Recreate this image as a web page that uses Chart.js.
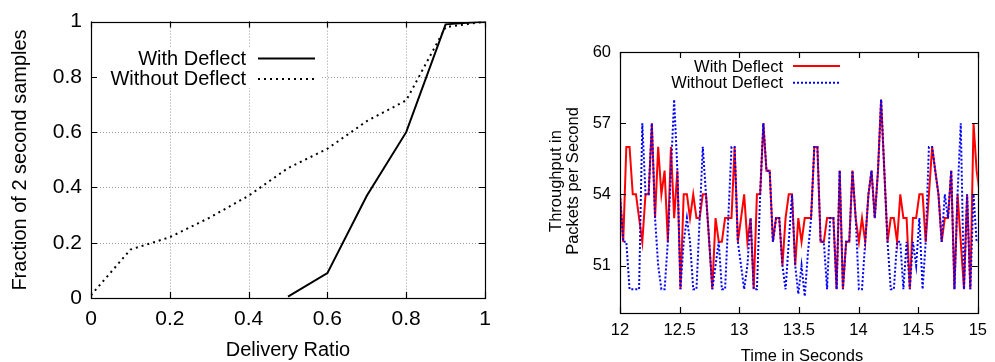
<!DOCTYPE html>
<html><head><meta charset="utf-8">
<script src="https://cdn.jsdelivr.net/npm/chart.js@4.4.1/dist/chart.umd.min.js"></script>
<style>
html,body{margin:0;padding:0;background:#fff;width:995px;height:362px;overflow:hidden}
#c1{position:absolute;left:0;top:0}
#c2{position:absolute;left:500px;top:0}
</style></head><body>
<canvas id="c1" width="500" height="362"></canvas>
<canvas id="c2" width="495" height="362"></canvas>
<script>
// ---------- Left chart: CDF of delivery ratio ----------
const cdfTicks = [0, 0.2, 0.4, 0.6, 0.8, 1];
const cdfWithX = [0.5, 0.6, 0.7, 0.8, 0.9, 1.0];
const cdfWithY = [0.005, 0.09, 0.37, 0.6, 0.99, 1.0];
const cdfWithoutX = [0, 0.1, 0.2, 0.3, 0.4, 0.5, 0.6, 0.7, 0.8, 0.9, 1.0];
const cdfWithoutY = [0.01, 0.175, 0.22, 0.29, 0.37, 0.47, 0.54, 0.64, 0.715, 0.98, 1.0];

// ---------- Right chart: throughput over time ----------
const thrXTicks = [12, 12.5, 13, 13.5, 14, 14.5, 15];
const thrYTicks = [51, 54, 57, 60];
const times = [12.000,12.027,12.053,12.080,12.107,12.134,12.160,12.187,12.214,12.240,
12.267,12.294,12.320,12.347,12.374,12.401,12.427,12.454,12.481,12.507,
12.534,12.561,12.587,12.614,12.641,12.668,12.694,12.721,12.748,12.774,
12.801,12.828,12.854,12.881,12.908,12.935,12.961,12.988,13.015,13.041,
13.068,13.095,13.121,13.148,13.175,13.202,13.228,13.255,13.282,13.308,
13.335,13.362,13.388,13.415,13.442,13.469,13.495,13.522,13.549,13.575,
13.602,13.629,13.655,13.682,13.709,13.736,13.762,13.789,13.816,13.842,
13.869,13.896,13.922,13.949,13.976,14.003,14.029,14.056,14.083,14.109,
14.136,14.163,14.189,14.216,14.243,14.270,14.296,14.323,14.350,14.376,
14.403,14.430,14.456,14.483,14.510,14.537,14.563,14.590,14.617,14.643,
14.670,14.697,14.723,14.750,14.777,14.804,14.830,14.857,14.884,14.910,
14.937,14.964,14.990,15.017];
const thrWith = [54,52,56,56,54,54,53,52,54,54,
57,53,56,54,55,52,56,53,55,50,
54,54,53,54,53,53,54,54,52,50,
53,52,52,53,53,53,56,52,53,54,
52,53,50,54,54,57,55,55,52,53,
53,51,53,54,54,51,53,52,53,53,
53,56,56,52,52,53,53,53,50,55,
50,52,52,55,53,52,53,52,54,55,
53,55,58,55,52,53,53,52,54,53,
53,50,53,53,54,54,52,54,56,55,
54,52,53,53,55,50,54,52,50,54,
50,57,55,54];
const thrWithout = [54,52,52,50,50,50,50,57,54,54,
57,53,51,50,50,52,55,58,55,50,
52,53,52,50,50,53,56,54,52,50,
51,52,50,50,53,56,56,52,51,50,
51,53,50,50,54,57,55,55,52,53,
53,51,50,52,54,51,49.8,51,49.7,51.5,
53,56,56,52,52,50,53,53,50,55,
50,52,52,55,53,50,50,52,54,55,
53,55,58,55,52,50,50,52,52,50,
52,50,52,51,53,50,52,56,56,55,
54,52,54,53,55,50,54,57,50,54,
50,54,52,52];

const FONT = "'Liberation Sans', Arial, Helvetica, sans-serif";

function decor(cfg) {
  return {
    id: 'decor',
    beforeDatasetsDraw(chart) {
      if (!cfg.grid) return;
      const {ctx, chartArea: a, scales: {x, y}} = chart;
      ctx.save();
      ctx.strokeStyle = cfg.gridColor; ctx.lineWidth = 1; ctx.setLineDash(cfg.gridDash);
      x.ticks.forEach(t => {
        const px = Math.round(x.getPixelForValue(t.value)) + 0.5;
        ctx.beginPath(); ctx.moveTo(px, a.top); ctx.lineTo(px, a.bottom); ctx.stroke();
      });
      y.ticks.forEach(t => {
        const py = Math.round(y.getPixelForValue(t.value)) + 0.5;
        ctx.beginPath(); ctx.moveTo(a.left, py); ctx.lineTo(a.right, py); ctx.stroke();
      });
      ctx.restore();
    },
    afterDatasetsDraw(chart) {
      const {ctx, chartArea: a, scales: {x, y}} = chart;
      ctx.save();
      // opaque legend box (covers grid lines, as in the original)
      if (cfg.legendBox) {
        const b = cfg.legendBox;
        ctx.fillStyle = '#fff';
        ctx.fillRect(b.x0, b.y0, b.x1 - b.x0, b.y1 - b.y0);
      }
      ctx.strokeStyle = '#000'; ctx.lineWidth = 1.2; ctx.setLineDash([]);
      const L = cfg.tickLen;
      x.ticks.forEach(t => {
        const px = Math.round(x.getPixelForValue(t.value)) + 0.5;
        ctx.beginPath(); ctx.moveTo(px, a.bottom); ctx.lineTo(px, a.bottom - L);
        ctx.moveTo(px, a.top); ctx.lineTo(px, a.top + L); ctx.stroke();
      });
      y.ticks.forEach(t => {
        const py = Math.round(y.getPixelForValue(t.value)) + 0.5;
        ctx.beginPath(); ctx.moveTo(a.left, py); ctx.lineTo(a.left + L, py);
        ctx.moveTo(a.right, py); ctx.lineTo(a.right - L, py); ctx.stroke();
      });
      ctx.strokeRect(Math.round(a.left) + 0.5, Math.round(a.top) + 0.5,
                     Math.round(a.right - a.left), Math.round(a.bottom - a.top));
      // legend (gnuplot style: text right-aligned, sample to the right)
      ctx.font = cfg.legendFont + 'px ' + FONT;
      ctx.textAlign = 'right'; ctx.textBaseline = 'alphabetic';
      cfg.legend.forEach(it => {
        ctx.fillStyle = '#000';
        ctx.fillText(it.text, cfg.legendTextRight, it.base);
        ctx.strokeStyle = it.color; ctx.lineWidth = it.width; ctx.setLineDash(it.dash);
        ctx.beginPath(); ctx.moveTo(cfg.sampleX0, it.lineY); ctx.lineTo(cfg.sampleX1, it.lineY); ctx.stroke();
      });
      ctx.setLineDash([]);
      // axis titles
      ctx.fillStyle = '#000';
      ctx.font = cfg.titleFont + 'px ' + FONT;
      ctx.textAlign = 'center'; ctx.textBaseline = 'alphabetic';
      ctx.fillText(cfg.xTitle.text, cfg.xTitle.x, cfg.xTitle.y);
      cfg.yTitle.forEach(t => {
        ctx.save(); ctx.translate(t.x, t.y); ctx.rotate(-Math.PI / 2);
        ctx.fillText(t.text, 0, 0); ctx.restore();
      });
      ctx.restore();
    }
  };
}

function axisOpts(min, max, tickList, size, fitProp, fitVal, pad) {
  return {
    type: 'linear', min, max,
    afterBuildTicks: s => { s.ticks = tickList.map(v => ({value: v})); },
    afterFit: s => { s[fitProp] = fitVal; },
    grid: {display: false, drawTicks: false},
    border: {display: false},
    ticks: {padding: pad, color: '#000', font: {family: FONT, size}, autoSkip: false, maxRotation: 0,
            callback: v => String(v)}
  };
}

// Left chart
new Chart(document.getElementById('c1'), {
  type: 'line',
  data: {datasets: [
    {label: 'With Deflect', data: cdfWithX.map((v, i) => ({x: v, y: cdfWithY[i]})),
     borderColor: '#000', borderWidth: 2, pointRadius: 0, tension: 0, fill: false},
    {label: 'Without Deflect', data: cdfWithoutX.map((v, i) => ({x: v, y: cdfWithoutY[i]})),
     borderColor: '#000', borderWidth: 2, borderDash: [2, 4], pointRadius: 0, tension: 0, fill: false}
  ]},
  options: {
    responsive: false, animation: false, devicePixelRatio: 1,
    layout: {padding: {left: 0, right: 15, top: 20, bottom: 0}},
    plugins: {legend: {display: false}, tooltip: {enabled: false}},
    scales: {
      x: axisOpts(0, 1, cdfTicks, 21, 'height', 64, 9),
      y: axisOpts(0, 1, cdfTicks, 21, 'width', 91, 9)
    }
  },
  plugins: [decor({
    grid: true, gridColor: '#9a9a9a', gridDash: [1, 2], tickLen: 6,
    legendBox: {x0: 92, y0: 48, x1: 320, y1: 88},
    legendFont: 20, legendTextRight: 246, sampleX0: 258, sampleX1: 315,
    legend: [
      {text: 'With Deflect', base: 65, lineY: 58.5, color: '#000', width: 2, dash: []},
      {text: 'Without Deflect', base: 85, lineY: 79, color: '#000', width: 2, dash: [2, 4]}
    ],
    titleFont: 20,
    xTitle: {text: 'Delivery Ratio', x: 288, y: 356},
    yTitle: [{text: 'Fraction of 2 second samples', x: 26, y: 160}]
  })]
});

// Right chart
new Chart(document.getElementById('c2'), {
  type: 'line',
  data: {datasets: [
    {label: 'With Deflect', data: times.map((t, i) => ({x: t, y: thrWith[i]})), order: 1,
     borderColor: '#ff0000', borderWidth: 2, pointRadius: 0, tension: 0, fill: false},
    {label: 'Without Deflect', data: times.map((t, i) => ({x: t, y: thrWithout[i]})), order: 0,
     borderColor: '#0000ff', borderWidth: 2, borderDash: [2, 2], pointRadius: 0, tension: 0, fill: false}
  ]},
  options: {
    responsive: false, animation: false, devicePixelRatio: 1,
    layout: {padding: {left: 0, right: 12, top: 52, bottom: 0}},
    plugins: {legend: {display: false}, tooltip: {enabled: false}},
    scales: {
      x: axisOpts(12, 15, thrXTicks, 16.5, 'height', 49, 8),
      y: axisOpts(49, 60, thrYTicks, 16.5, 'width', 120, 9)
    }
  },
  plugins: [decor({
    grid: false, tickLen: 6,
    legendFont: 16.5, legendTextRight: 283, sampleX0: 293, sampleX1: 340,
    legend: [
      {text: 'With Deflect', base: 71.7, lineY: 66, color: '#ff0000', width: 2, dash: []},
      {text: 'Without Deflect', base: 88.3, lineY: 82.7, color: '#0000ff', width: 2, dash: [2, 2]}
    ],
    titleFont: 16.5,
    xTitle: {text: 'Time in Seconds', x: 302, y: 360.5},
    yTitle: [{text: 'Throughput in', x: 61, y: 181}, {text: 'Packets per Second', x: 78, y: 181}]
  })]
});
</script>
</body></html>
